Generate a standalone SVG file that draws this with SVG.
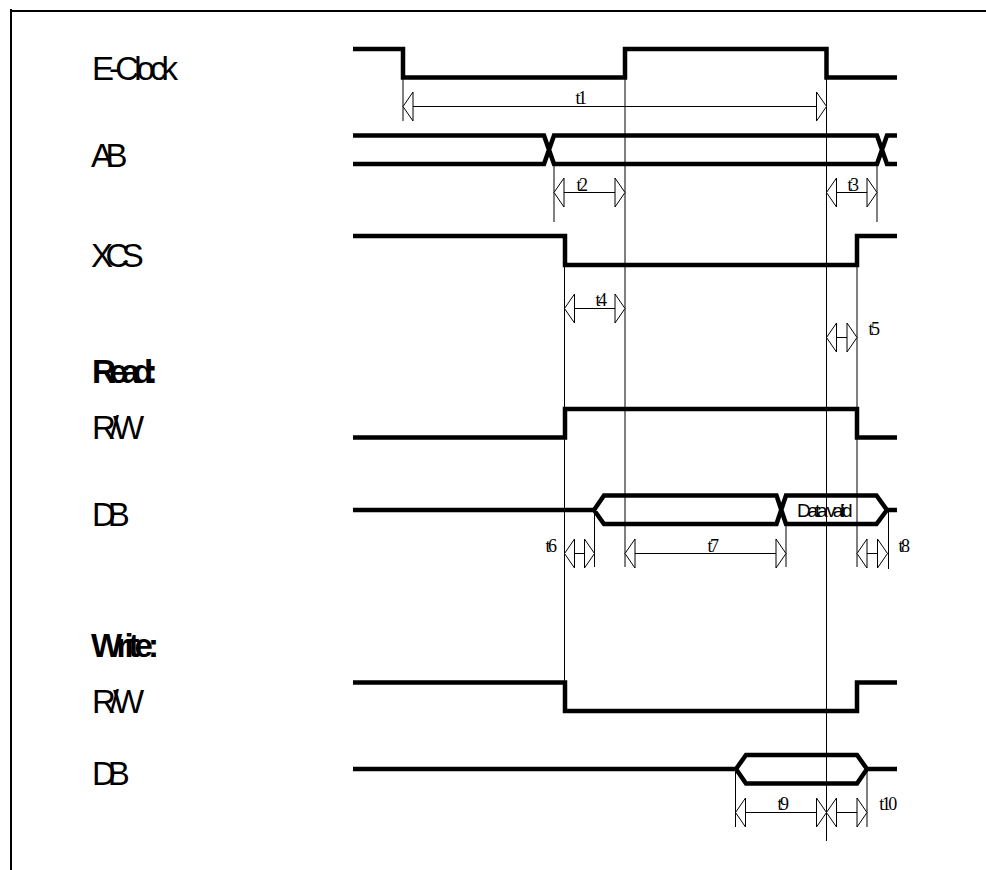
<svg xmlns="http://www.w3.org/2000/svg" width="986" height="870" viewBox="0 0 986 870">
<style>
.f{fill:none;stroke:#000;stroke-width:2}
.w{fill:none;stroke:#000;stroke-width:4.500;stroke-linejoin:miter}
.g{fill:none;stroke:#000;stroke-width:1}
.a{fill:none;stroke:#000;stroke-width:1;marker-start:url(#h);marker-end:url(#h)}
.l{font-family:"Liberation Sans",Arial,sans-serif;font-size:33px;fill:#000}
.b{font-weight:bold}
.t{font-family:"Liberation Serif","Times New Roman",serif;font-size:18px;fill:#000;text-anchor:middle;letter-spacing:-2.500px}
.d{font-family:"Liberation Sans",Arial,sans-serif;font-size:19px;fill:#000;letter-spacing:-3.200px}
</style>
<defs>
<marker id="h" markerUnits="userSpaceOnUse" markerWidth="14" markerHeight="32" refX="11" refY="15.500" orient="auto-start-reverse" overflow="visible">
<path d="M1 1L11 15.500L1 30Z" fill="#fff" stroke="#000" stroke-width="1"/>
</marker>
</defs>
<path id="frame" class="f" d="M11 870V9M11 11H986"/>
<g id="guides">
<path class="g" d="M403 77V121"/>
<path class="g" d="M625 49V567"/>
<path class="g" d="M826.500 49V841"/>
<path class="g" d="M554 164V222"/>
<path class="g" d="M877 164V222"/>
<path class="g" d="M564.500 236V712"/>
<path class="g" d="M857 236V567"/>
<path class="g" d="M594.500 510V567"/>
<path class="g" d="M786 524V567"/>
<path class="g" d="M888.500 510V569"/>
<path class="g" d="M735.500 769V827"/>
<path class="g" d="M867 769V827"/>
</g>
<g id="connectors">
<path class="a" d="M403 106.500H826.500"/>
<path class="a" d="M554 192.500H625"/>
<path class="a" d="M826.500 192.500H877"/>
<path class="a" d="M564.500 308.500H625"/>
<path class="a" d="M826.500 337.500H857"/>
<path class="a" d="M564.500 553.500H594.500"/>
<path class="a" d="M625 553.500H786"/>
<path class="a" d="M857 553.500H887.500"/>
<path class="a" d="M735.500 812.500H826.500"/>
<path class="a" d="M826.500 812.500H867"/>
</g>
<g id="eclock">
<path class="w" d="M353 49H403V77.500H625V49H826.500V77.500H897"/>
<text class="l" x="92" y="80" letter-spacing="-4.900">E-Clock</text>
</g>
<g id="ab">
<path class="w" d="M353 135.500H544L554 164H877L887 135.500H897M353 164H544L554 135.500H877L887 164H897"/>
<text class="l" x="91" y="167" letter-spacing="-7.500">AB</text>
</g>
<g id="xcs">
<path class="w" d="M353 236H565V265H857V236H897"/>
<text class="l" x="91" y="267" letter-spacing="-7.500">XCS</text>
</g>
<g id="read"><text class="l b" x="92" y="383" letter-spacing="-6.500">Read:</text></g>
<g id="rw-read">
<path class="w" d="M353 437.500H565V409H857V437.500H897"/>
<text class="l" x="92" y="439" letter-spacing="-6">R/W</text>
</g>
<g id="db-read">
<path class="w" d="M353 510H594L604 495.500H776.500L786 524H876.500L887 510H897M594 510L604 524H776.500L786 495.500H876.500L887 510"/>
<text class="l" x="92" y="526" letter-spacing="-8">DB</text>
<text class="d" x="797" y="517">Data valid</text>
</g>
<g id="write"><text class="l b" x="91" y="657" letter-spacing="-5">Write:</text></g>
<g id="rw-write">
<path class="w" d="M353 682.500H565V711H857V682.500H897"/>
<text class="l" x="92" y="713" letter-spacing="-6">R/W</text>
</g>
<g id="db-write">
<path class="w" d="M353 769H736L746 755H857L867 769H897M736 769L746 783.500H857L867 769"/>
<text class="l" x="92" y="785" letter-spacing="-8">DB</text>
</g>
<g id="timing-labels">
<text class="t" x="580" y="104">t1</text>
<text class="t" x="581" y="191">t2</text>
<text class="t" x="852" y="191">t3</text>
<text class="t" x="600" y="306">t4</text>
<text class="t" x="873" y="335">t5</text>
<text class="t" x="550" y="552">t6</text>
<text class="t" x="712" y="552">t7</text>
<text class="t" x="903" y="552">t8</text>
<text class="t" x="782" y="810">t9</text>
<text class="t" x="887" y="810">t10</text>
</g>
</svg>
